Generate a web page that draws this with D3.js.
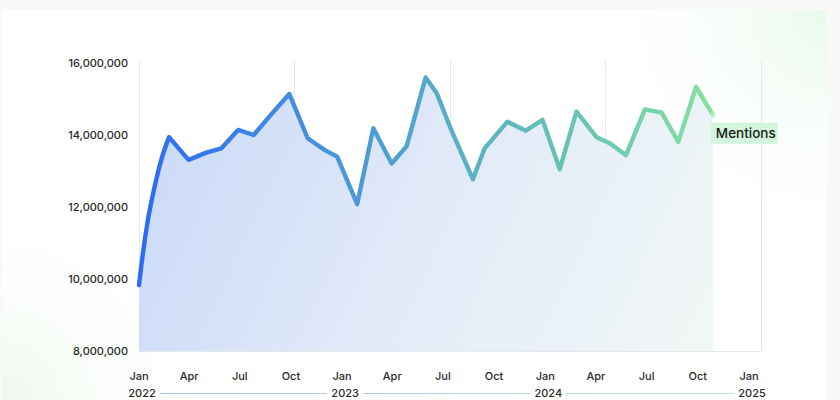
<!DOCTYPE html>
<html>
<head>
<meta charset="utf-8">
<script src="https://cdn.jsdelivr.net/npm/d3@7"></script>
<style>
  html, body { margin: 0; padding: 0; background: #f9f9f9; }
  svg { display: block; }
  text { font-family: Inter, "Noto Sans", sans-serif; }
</style>
</head>
<body>
<svg id="chart" width="840" height="400"></svg>
<script>
// ---- data ----
const dates = [
  "2022-01-01","2022-01-08","2022-01-17","2022-01-29","2022-02-10","2022-02-24",
  "2022-03-31","2022-05-02","2022-05-29","2022-06-28","2022-07-26","2022-08-27",
  "2022-09-28","2022-10-31","2022-12-01","2022-12-23","2023-01-28","2023-02-26",
  "2023-03-31","2023-04-27","2023-05-31","2023-06-20","2023-07-16","2023-08-24",
  "2023-09-14","2023-10-25","2023-11-27","2023-12-27","2024-01-27","2024-02-26",
  "2024-04-02","2024-04-26","2024-05-25","2024-06-28","2024-07-28","2024-08-27",
  "2024-09-28","2024-10-28"
];
const mentions = [
  9830000, 10710000, 11640000, 12560000, 13310000, 13940000,
  13310000, 13510000, 13630000, 14140000, 14000000, 14580000,
  15140000, 13910000, 13580000, 13400000, 12080000, 14190000,
  13210000, 13690000, 15600000, 15160000, 14140000, 12770000,
  13630000, 14370000, 14120000, 14420000, 13050000, 14650000,
  13940000, 13770000, 13440000, 14710000, 14620000, 13810000,
  15340000, 14560000
];
const seriesName = "Mentions";
const yTicks = [8000000, 10000000, 12000000, 14000000, 16000000];
const monthTicks = [
  "2022-01-01","2022-04-01","2022-07-01","2022-10-01",
  "2023-01-01","2023-04-01","2023-07-01","2023-10-01",
  "2024-01-01","2024-04-01","2024-07-01","2024-10-01","2025-01-01"
];
const monthLabels = ["Jan","Apr","Jul","Oct","Jan","Apr","Jul","Oct","Jan","Apr","Jul","Oct","Jan"];
const yearTicks = ["2022-01-01","2023-01-01","2024-01-01","2025-01-01"];
const yearLabels = ["2022","2023","2024","2025"];
const smoothStartCount = 6; // the opening rise is drawn as a smooth curve

// ---- layout ----
const W = 840, H = 400;
const plot = { left: 139, right: 761, top: 61, bottom: 351 };
const svg = d3.select("#chart");
const defs = svg.append("defs");

const parse = d3.utcParse("%Y-%m-%d");
const data = dates.map((d, i) => ({ date: parse(d), v: mentions[i] }));

const x = d3.scaleUtc()
  .domain([parse("2022-01-01"), parse("2025-01-01")])
  .range([139, 749]);
const y = d3.scaleLinear().domain([8000000, 16000000]).range([351, 63]);
const grid = d3.scaleLinear().domain([0, 4]).range([plot.left, plot.right]);

// ---- background card with glows ----
svg.append("rect").attr("width", W).attr("height", H).attr("fill", "#f9f9f9");
const g1 = defs.append("radialGradient").attr("id", "glowTR")
  .attr("gradientUnits", "userSpaceOnUse").attr("cx", 830).attr("cy", 10).attr("r", 260);
g1.append("stop").attr("offset", 0).attr("stop-color", "#e9f9ec");
g1.append("stop").attr("offset", 1).attr("stop-color", "#ffffff").attr("stop-opacity", 0);
const g2 = defs.append("radialGradient").attr("id", "glowBL")
  .attr("gradientUnits", "userSpaceOnUse").attr("cx", 0).attr("cy", 400).attr("r", 220);
g2.append("stop").attr("offset", 0).attr("stop-color", "#eef8ec");
g2.append("stop").attr("offset", 1).attr("stop-color", "#ffffff").attr("stop-opacity", 0);

svg.append("rect").attr("x", 2).attr("y", 10).attr("width", 825).attr("height", 400).attr("fill", "#ffffff");
svg.append("rect").attr("x", 2).attr("y", 10).attr("width", 825).attr("height", 400).attr("fill", "url(#glowTR)");
svg.append("rect").attr("x", 2).attr("y", 10).attr("width", 825).attr("height", 400).attr("fill", "url(#glowBL)");

// ---- gradients ----
const xFirst = x(data[0].date), xLast = x(data[data.length - 1].date);
const lg = defs.append("linearGradient").attr("id", "lineGrad")
  .attr("gradientUnits", "userSpaceOnUse")
  .attr("x1", xFirst).attr("y1", 0).attr("x2", xLast).attr("y2", 0);
[[0, "#2b6bf5"], [0.3, "#4690dc"], [0.55, "#58afc6"], [0.8, "#6cc8b0"], [1, "#86e2a2"]]
  .forEach(([o, c]) => lg.append("stop").attr("offset", o).attr("stop-color", c));

const ag = defs.append("linearGradient").attr("id", "areaGrad")
  .attr("gradientUnits", "userSpaceOnUse")
  .attr("x1", xFirst).attr("y1", 80).attr("x2", xLast).attr("y2", 351);
[[0, "#c9d8f8"], [0.5, "#e1eaf8"], [1, "#f2f8f6"]]
  .forEach(([o, c]) => ag.append("stop").attr("offset", o).attr("stop-color", c));

const yl = defs.append("linearGradient").attr("id", "yearGrad")
  .attr("gradientUnits", "userSpaceOnUse")
  .attr("x1", x(parse(yearTicks[0]))).attr("y1", 0)
  .attr("x2", x(parse(yearTicks[yearTicks.length - 1]))).attr("y2", 0);
[[0, "#aac2f4"], [0.5, "#acd3e4"], [1, "#b4ebc8"]]
  .forEach(([o, c]) => yl.append("stop").attr("offset", o).attr("stop-color", c));

// ---- grid ----
svg.append("g").selectAll("line").data(d3.range(0, 5)).join("line")
  .attr("x1", d => grid(d)).attr("x2", d => grid(d))
  .attr("y1", plot.top).attr("y2", plot.bottom)
  .attr("stroke", "#e6e8eb").attr("stroke-width", 1)
  .attr("shape-rendering", "crispEdges");

// ---- area + line ----
const headData = data.slice(0, smoothStartCount);
const tailData = data.slice(smoothStartCount - 1);

const areaHead = d3.area().curve(d3.curveMonotoneX)
  .x(d => x(d.date)).y0(y(8000000)).y1(d => y(d.v));
const areaTail = d3.area()
  .x(d => x(d.date)).y0(y(8000000)).y1(d => y(d.v));
// one path: smooth head + linear tail
const headPath = areaHead.lineY1()(headData);
const tailLine = d3.line().x(d => x(d.date)).y(d => y(d.v));
const tailPath = tailLine(tailData).replace(/^M/, "L");
const areaD = headPath + tailPath +
  `L${xLast},${y(8000000)}L${xFirst},${y(8000000)}Z`;
svg.append("path").attr("d", areaD).attr("fill", "url(#areaGrad)");

svg.append("line")
  .attr("x1", plot.left).attr("x2", plot.right)
  .attr("y1", plot.bottom).attr("y2", plot.bottom)
  .attr("stroke", "#e6e8eb").attr("stroke-width", 1)
  .attr("shape-rendering", "crispEdges");

svg.append("path")
  .attr("d", headPath + tailPath)
  .attr("fill", "none").attr("stroke", "url(#lineGrad)")
  .attr("stroke-width", 4.4).attr("stroke-linejoin", "round").attr("stroke-linecap", "round");

const last = data[data.length - 1];
svg.append("circle").attr("cx", x(last.date)).attr("cy", y(last.v)).attr("r", 2.6)
  .attr("fill", "#b6efca");

// ---- series label ----
const lbl = svg.append("g").attr("transform", `translate(${x(last.date) - 2},${y(last.v) + 8})`);
lbl.append("rect").attr("width", 67).attr("height", 21).attr("fill", "#d2f5db");
lbl.append("text").attr("x", 5).attr("y", 15).attr("font-size", 13.5).attr("font-weight", 500)
  .attr("fill", "#1a1a1a").text(seriesName);

// ---- y axis ----
svg.append("g").selectAll("text").data(yTicks).join("text")
  .attr("x", 128).attr("y", d => y(d)).attr("dy", "0.35em")
  .attr("text-anchor", "end").attr("font-size", 11).attr("font-weight", 500)
  .attr("fill", "#2a2a2a").text(d3.format(","));

// ---- x axis: months ----
svg.append("g").selectAll("text").data(monthTicks).join("text")
  .attr("x", d => x(parse(d))).attr("y", 380)
  .attr("text-anchor", "middle").attr("font-size", 11).attr("font-weight", 500)
  .attr("fill", "#2a2a2a").text((d, i) => monthLabels[i]);

// ---- x axis: years ----
svg.append("g").selectAll("text").data(yearTicks).join("text")
  .attr("x", d => x(parse(d)) + 3).attr("y", 397)
  .attr("text-anchor", "middle").attr("font-size", 11).attr("font-weight", 500)
  .attr("fill", "#2a2a2a").text((d, i) => yearLabels[i]);

svg.append("g").selectAll("line").data(d3.pairs(yearTicks)).join("line")
  .attr("x1", d => x(parse(d[0])) + 21).attr("x2", d => x(parse(d[1])) - 15)
  .attr("y1", 393.5).attr("y2", 393.5)
  .attr("stroke", "url(#yearGrad)").attr("stroke-width", 1.2);
</script>
</body>
</html>
